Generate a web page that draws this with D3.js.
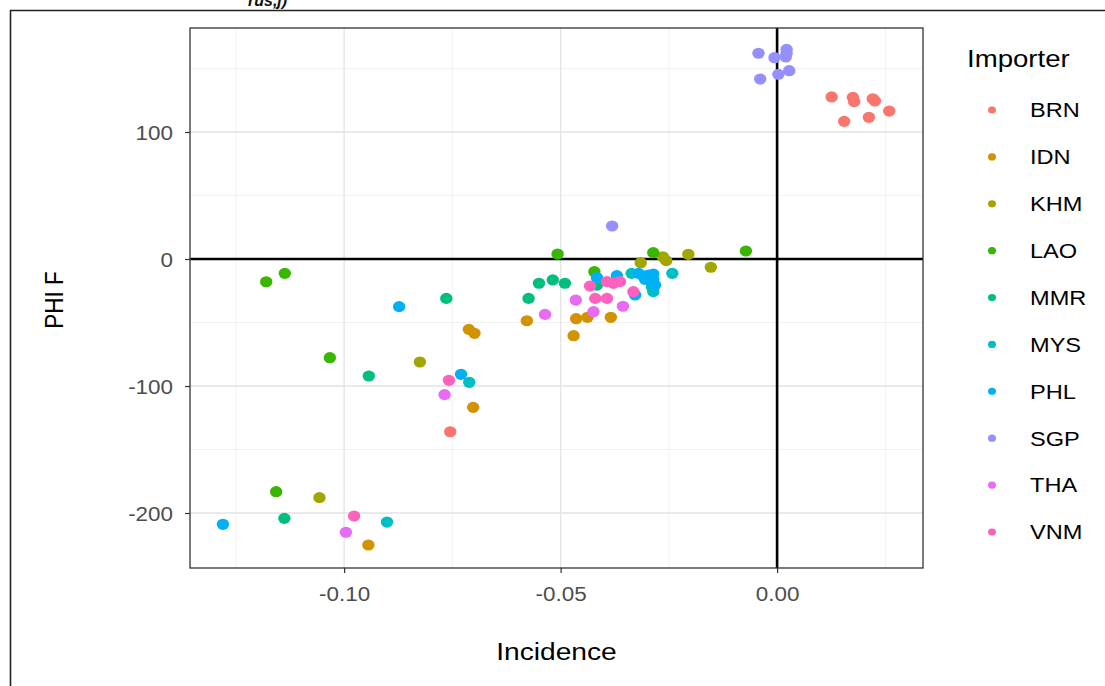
<!DOCTYPE html>
<html>
<head>
<meta charset="utf-8">
<script src="https://cdn.jsdelivr.net/npm/d3@7"></script>
<style>
  html, body { margin: 0; padding: 0; background: #fff; }
  svg { display: block; font-family: "Liberation Sans", Arial, sans-serif; }
</style>
</head>
<body>
<svg id="chart" width="1105" height="686"></svg>
<script>
// ---- data (Incidence, PHI F) ----
const importers = ["BRN", "IDN", "KHM", "LAO", "MMR", "MYS", "PHL", "SGP", "THA", "VNM"];
const colors = ["#F8766D", "#D39200", "#A3A500", "#39B600", "#00BF7D", "#00BFC4", "#00B0F6", "#9590FF", "#E76BF3", "#FF62BC"];

const BRN = [[0.0126,127.6],[0.0175,127.3],[0.0178,123.9],[0.0221,126.2],[0.0226,124.4],[0.0155,108.4],[0.0212,111.6],[0.0259,116.5],[-0.0755,-136.0]];
const IDN = [[-0.0578,-48.6],[-0.0464,-47.0],[-0.0470,-60.4],[-0.0438,-45.9],[-0.0384,-45.9],[-0.0712,-55.4],[-0.0699,-58.5],[-0.0702,-116.8],[-0.0944,-225.2]];
const KHM = [[-0.0264,1.8],[-0.0256,-1.3],[-0.0205,3.7],[-0.0153,-6.5],[-0.0315,-2.9],[-0.0825,-81.1],[-0.1057,-187.9]];
const LAO = [[-0.0507,3.9],[-0.0286,5.0],[-0.0072,6.3],[-0.0422,-10.0],[-0.1180,-17.9],[-0.1137,-11.3],[-0.1033,-77.7],[-0.1157,-183.2]];
const MMR = [[-0.0550,-19.1],[-0.0518,-16.5],[-0.0490,-19.1],[-0.0574,-31.0],[-0.0416,-20.5],[-0.0764,-31.0],[-0.0943,-92.1],[-0.1138,-204.2]];
const MYS = [[-0.0242,-11.3],[-0.0336,-11.3],[-0.0286,-25.7],[-0.0289,-21.8],[-0.0711,-97.1],[-0.0901,-207.1]];
const PHL = [[-0.0370,-13.1],[-0.0416,-14.7],[-0.0320,-11.3],[-0.0309,-13.4],[-0.0297,-12.6],[-0.0286,-11.8],[-0.0305,-16.0],[-0.0286,-16.0],[-0.0282,-20.5],[-0.0328,-28.3],[-0.0873,-37.5],[-0.0730,-90.8],[-0.1280,-208.9]];
const SGP = [[-0.0043,162.0],[-0.0006,158.5],[0.0022,165.1],[0.0022,162.0],[0.0020,159.1],[0.0028,148.3],[0.0003,145.4],[-0.0039,141.7],[-0.0381,26.0]];
const THA = [[-0.0465,-32.3],[-0.0536,-43.6],[-0.0356,-37.2],[-0.0424,-41.5],[-0.0768,-106.8],[-0.0996,-215.2]];
const VNM = [[-0.0432,-21.3],[-0.0393,-17.8],[-0.0378,-19.2],[-0.0363,-17.8],[-0.0420,-31.0],[-0.0393,-31.0],[-0.0332,-25.7],[-0.0758,-95.5],[-0.0977,-202.4]];
const seriesData = [BRN, IDN, KHM, LAO, MMR, MYS, PHL, SGP, THA, VNM];

const xTicks = [-0.10, -0.05, 0.00];
const xMinor = [-0.125, -0.075, -0.025, 0.025];
const yTicks = [-200, -100, 0, 100];
const yMinor = [-150, -50, 50, 150];
const xTitle = "Incidence";
const yTitle = "PHI F";
const legendTitle = "Importer";

// ---- layout ----
const SX = 1.15; // horizontal stretch of the reference rendering
const svg = d3.select("#chart");
const P = { left: 190, right: 923, top: 28, bottom: 568 };
const x = d3.scaleLinear().domain([-0.1356, 0.0337]).range([P.left, P.right]);
const y = d3.scaleLinear().domain([-243.3, 181.9]).range([P.bottom, P.top]);

function stretchedText(parent, px, py, str, size, anchor) {
  return parent.append("text")
    .attr("transform", `translate(${px},${py}) scale(${SX},1)`)
    .attr("text-anchor", anchor || "start")
    .attr("font-size", size).attr("fill", "#000").text(str);
}

// outer frame (partially visible)
svg.append("line").attr("x1", 10).attr("x2", 1105).attr("y1", 10.5).attr("y2", 10.5)
  .attr("stroke", "#222").attr("stroke-width", 1.6);
svg.append("line").attr("x1", 10.5).attr("x2", 10.5).attr("y1", 10).attr("y2", 686)
  .attr("stroke", "#222").attr("stroke-width", 1.6);
svg.append("text").attr("x", 248).attr("y", 6).attr("font-size", 16)
  .attr("font-weight", "bold").attr("font-style", "italic").attr("fill", "#111").text("rus,j)");

// panel background
const g = svg.append("g");
g.append("rect").attr("x", P.left).attr("y", P.top).attr("width", P.right - P.left)
  .attr("height", P.bottom - P.top).attr("fill", "#fff");

// grid
g.selectAll(".xminor").data(xMinor).join("line")
  .attr("x1", d => x(d)).attr("x2", d => x(d)).attr("y1", P.top).attr("y2", P.bottom)
  .attr("stroke", "#ededed").attr("stroke-width", 0.8);
g.selectAll(".yminor").data(yMinor).join("line")
  .attr("y1", d => y(d)).attr("y2", d => y(d)).attr("x1", P.left).attr("x2", P.right)
  .attr("stroke", "#ededed").attr("stroke-width", 0.8);
g.selectAll(".xmajor").data(xTicks).join("line")
  .attr("x1", d => x(d)).attr("x2", d => x(d)).attr("y1", P.top).attr("y2", P.bottom)
  .attr("stroke", "#e3e3e3").attr("stroke-width", 1.3);
g.selectAll(".ymajor").data(yTicks).join("line")
  .attr("y1", d => y(d)).attr("y2", d => y(d)).attr("x1", P.left).attr("x2", P.right)
  .attr("stroke", "#e3e3e3").attr("stroke-width", 1.3);

// reference lines
g.append("line").attr("x1", P.left).attr("x2", P.right).attr("y1", y(0)).attr("y2", y(0))
  .attr("stroke", "#000").attr("stroke-width", 2.6);
g.append("line").attr("x1", x(0)).attr("x2", x(0)).attr("y1", P.top).attr("y2", P.bottom)
  .attr("stroke", "#000").attr("stroke-width", 2.6);

// points
importers.forEach((name, i) => {
  g.selectAll(".pt-" + name).data(seriesData[i]).join("ellipse")
    .attr("cx", d => x(d[0])).attr("cy", d => y(d[1])).attr("rx", 6.2).attr("ry", 5.6)
    .attr("fill", colors[i]);
});

// panel border
g.append("rect").attr("x", P.left).attr("y", P.top).attr("width", P.right - P.left)
  .attr("height", P.bottom - P.top).attr("fill", "none").attr("stroke", "#333").attr("stroke-width", 1.3);

// axes
const xAxis = svg.append("g").attr("transform", `translate(0,${P.bottom})`)
  .call(d3.axisBottom(x).tickValues(xTicks).tickFormat(d => d.toFixed(2)).tickSizeOuter(0).tickSize(5));
const yAxis = svg.append("g").attr("transform", `translate(${P.left},0)`)
  .call(d3.axisLeft(y).tickValues(yTicks).tickFormat(d => String(d)).tickSizeOuter(0).tickSize(5));
[xAxis, yAxis].forEach(a => {
  a.select(".domain").remove();
  a.selectAll(".tick line").attr("stroke", "#333").attr("stroke-width", 1.2);
  a.selectAll(".tick text").attr("fill", "#4d4d4d").attr("font-size", 19.5)
    .attr("font-family", "'Liberation Sans', Arial, sans-serif")
    .attr("transform", `scale(${SX},1)`);
});
xAxis.selectAll(".tick text").attr("y", 33).attr("dy", 0);
yAxis.selectAll(".tick text").attr("x", -17 / SX).attr("dy", "0.36em");

// axis titles
stretchedText(svg, (P.left + P.right) / 2, 660, xTitle, 24.5, "middle");
svg.append("text").attr("transform", `translate(63,${(P.top + P.bottom) / 2 + 2}) rotate(-90) scale(1,${SX})`)
  .attr("text-anchor", "middle").attr("font-size", 22.5).attr("fill", "#000").text(yTitle);

// legend
const lg = svg.append("g");
stretchedText(lg, 967, 67, legendTitle, 24, "start");
const ly = d3.scalePoint().domain(importers).range([110, 532]);
lg.selectAll(".lk").data(importers).join("ellipse")
  .attr("cx", 992).attr("cy", d => ly(d)).attr("rx", 4).attr("ry", 3.6)
  .attr("fill", (d, i) => colors[i]);
lg.selectAll(".ll").data(importers).join("text")
  .attr("transform", d => `translate(1030,${ly(d)}) scale(${SX},1)`)
  .attr("dy", "0.36em").attr("font-size", 20.5).attr("fill", "#000").text(d => d);
</script>
</body>
</html>
